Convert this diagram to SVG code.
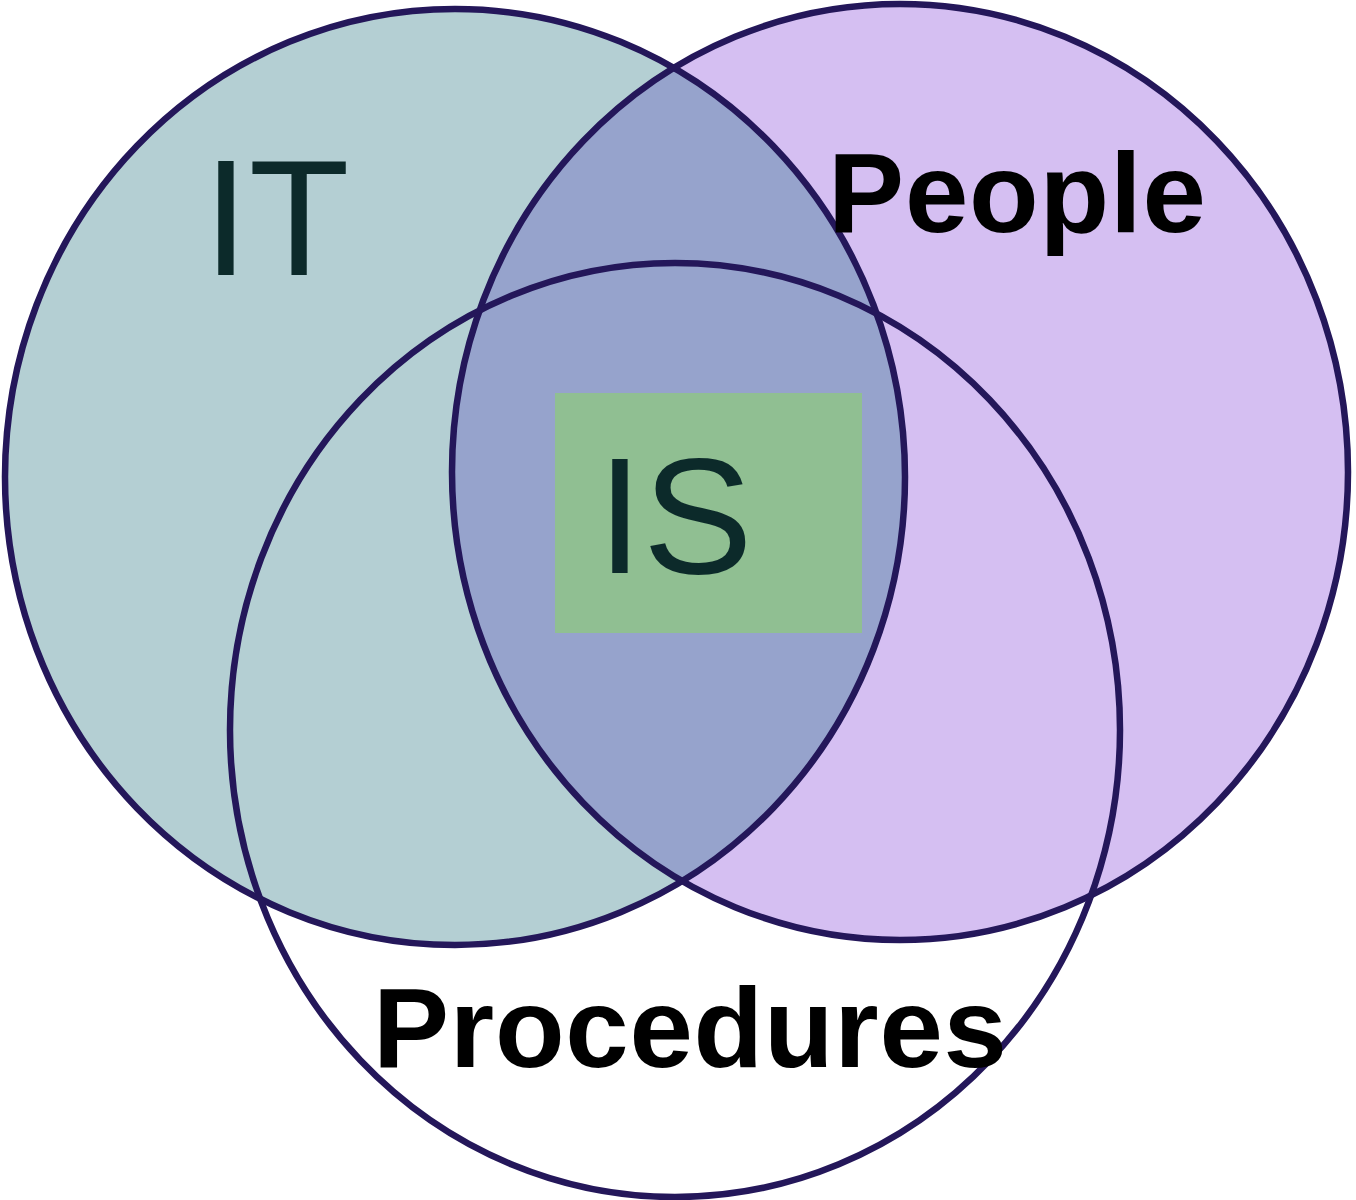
<svg xmlns="http://www.w3.org/2000/svg" width="1356" height="1200" viewBox="0 0 1356 1200">
<style>
.ring{fill:none;stroke:#24175a;stroke-width:6.5}
.lt{font-family:"Liberation Sans",Arial,sans-serif;font-size:165px;fill:#0c2a2a}
.lb{font-family:"Liberation Sans",Arial,sans-serif;font-size:114px;font-weight:bold;fill:#000}
</style>
<defs>
<clipPath id="itClip"><ellipse cx="455" cy="477" rx="450" ry="468"/></clipPath>
</defs>
<rect width="1356" height="1200" fill="#fff"/>
<g id="it-fill"><ellipse cx="455" cy="477" rx="450" ry="468" fill="#b4cfd3"/></g>
<g id="people-fill"><ellipse cx="900" cy="472" rx="448" ry="468" fill="#d5bff2"/></g>
<g id="overlap"><ellipse cx="900" cy="472" rx="448" ry="468" fill="#96a3cc" clip-path="url(#itClip)"/></g>
<g id="is">
<rect x="555" y="393" width="307" height="240" fill="#90bf92"/>
<text class="lt" x="597" y="573">IS</text>
</g>
<g id="rings">
<ellipse id="it-ring" class="ring" cx="455" cy="477" rx="450" ry="468"/>
<ellipse id="people-ring" class="ring" cx="900" cy="472" rx="448" ry="468"/>
<ellipse id="procedures-ring" class="ring" cx="675" cy="730" rx="445" ry="467"/>
</g>
<g id="it"><text class="lt" x="203" y="275">IT</text></g>
<g id="people"><text class="lb" x="828" y="232" textLength="378" lengthAdjust="spacing">People</text></g>
<g id="procedures"><text class="lb" x="373" y="1067" textLength="634" lengthAdjust="spacing">Procedures</text></g>
</svg>
